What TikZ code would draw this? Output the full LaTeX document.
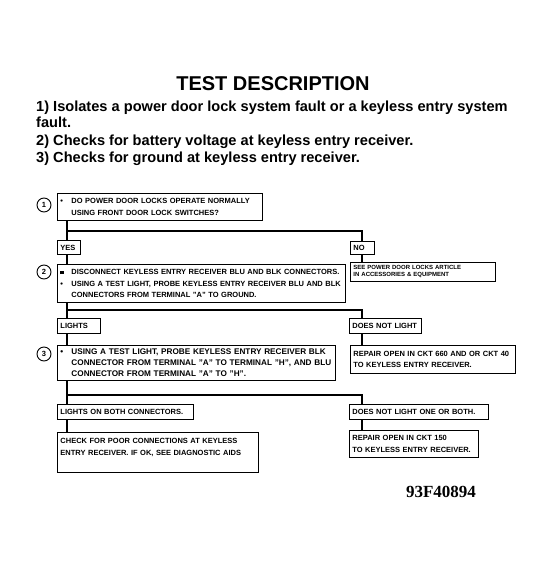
\documentclass[tikz,border=0pt]{standalone}
\usepackage{fontspec}
\setmainfont{Liberation Sans}
\newfontfamily\serialfont{Liberation Serif}
\usepackage{tikz}
\usetikzlibrary{positioning}
\newcommand{\boxfont}{\fontsize{7.5}{11.5}\selectfont\bfseries}
\newcommand{\wideboxfont}{\fontsize{8.2}{11.2}\selectfont\bfseries}
\newcommand{\seefont}{\fontsize{6}{7}\selectfont\bfseries}
\newcommand{\bul}{\makebox[11pt][l]{\textbullet}}
\newcommand{\sqbul}{\makebox[11pt][l]{\rule[0.5pt]{3.2pt}{3.2pt}}}
\newcommand{\ind}{\hspace*{11pt}}
\tikzset{
  box/.style={draw, line width=0.9pt, anchor=north west, inner sep=3pt,
    align=left, font=\boxfont},
  tag/.style={box, fill=white},
  stepnum/.style={circle, draw, line width=0.9pt, minimum size=14pt,
    inner sep=0pt, font=\fontsize{7.5}{8}\selectfont\bfseries},
  trunk/.style={line width=2.8pt},
  bodyline/.style={anchor=base west, inner sep=0pt,
    font=\fontsize{14.6}{17}\selectfont\bfseries}
}

\begin{document}
\begin{tikzpicture}[x=1pt, y=-1pt]
  \useasboundingbox (0,0) rectangle (553,573);
  % Heading
  \node[anchor=base, inner sep=0pt, font=\fontsize{20}{24}\selectfont\bfseries]
    (title) at (273,90) {TEST DESCRIPTION};
  \node[bodyline] (d1a) at (36,111) {1) Isolates a power door lock system fault or a keyless entry system};
  \node[bodyline] (d1b) at (36,127) {fault.};
  \node[bodyline] (d2) at (36,145) {2) Checks for battery voltage at keyless entry receiver.};
  \node[bodyline] (d3) at (36,162) {3) Checks for ground at keyless entry receiver.};
  % Junctions of the trunk
  \coordinate (t1) at (67,231);
  \coordinate (t2) at (67,310);
  \coordinate (t3) at (67,395);
  \coordinate (r1) at (362,231);
  \coordinate (r2) at (362,310);
  \coordinate (r3) at (362,395);
  % Step 1
  \node[stepnum] (c1) at (44,205) {1};
  \node[box, text width=199pt, minimum height=27pt] (q1) at (57,193)
    {\bul DO POWER DOOR LOCKS OPERATE NORMALLY\\ \ind USING FRONT DOOR LOCK SWITCHES?};
  \node[tag, text width=17pt, minimum height=14pt] (yes) at (57,240) {YES};
  \node[tag, text width=18pt, minimum height=13pt] (no) at (350,241) {NO};
  \node[box, font=\seefont, text width=139pt, minimum height=19pt] (see) at (350,262)
    {SEE POWER DOOR LOCKS ARTICLE\\ IN ACCESSORIES \& EQUIPMENT};
  % Step 2
  \node[stepnum] (c2) at (44,272) {2};
  \node[box, text width=282pt, minimum height=38pt] (q2) at (57,264)
    {\sqbul DISCONNECT KEYLESS ENTRY RECEIVER BLU AND BLK CONNECTORS.\\
     \bul USING A TEST LIGHT, PROBE KEYLESS ENTRY RECEIVER BLU AND BLK\\
     \ind CONNECTORS FROM TERMINAL "A" TO GROUND.};
  \node[tag, text width=37pt, minimum height=15pt] (lights) at (57,318) {LIGHTS};
  \node[tag, text width=66pt, minimum height=15pt] (nl) at (349,318) {DOES NOT LIGHT};
  \node[box, text width=159pt, minimum height=28pt] (rep1) at (350,345)
    {REPAIR OPEN IN CKT 660 AND OR CKT 40\\ TO KEYLESS ENTRY RECEIVER.};
  % Step 3
  \node[stepnum] (c3) at (44,354) {3};
  \node[box, font=\wideboxfont, text width=272pt, minimum height=35pt] (q3) at (57,345)
    {\bul USING A TEST LIGHT, PROBE KEYLESS ENTRY RECEIVER BLK\\
     \ind CONNECTOR FROM TERMINAL "A" TO TERMINAL "H", AND BLU\\
     \ind CONNECTOR FROM TERMINAL "A" TO "H".};
  \node[tag, text width=130pt, minimum height=15pt] (both) at (57,404) {LIGHTS ON BOTH CONNECTORS.};
  \node[tag, text width=133pt, minimum height=15pt] (notboth) at (349,404) {DOES NOT LIGHT ONE OR BOTH.};
  \node[box, text width=195pt, minimum height=40pt] (check) at (57,432)
    {CHECK FOR POOR CONNECTIONS AT KEYLESS\\ ENTRY RECEIVER. IF OK, SEE DIAGNOSTIC AIDS\\ \mbox{}};
  \node[box, text width=123pt, minimum height=27pt] (rep2) at (349,430)
    {REPAIR OPEN IN CKT 150\\ TO KEYLESS ENTRY RECEIVER.};
  % Figure number
  \node[anchor=base, inner sep=0pt, font=\serialfont\fontsize{17}{20}\selectfont\bfseries]
    (fig) at (441,497) {93F40894};
  % Trunk lines
  \draw[trunk] (q1.south -| t1) -- (yes.north -| t1);
  \draw[trunk] (yes.south -| t1) -- (q2.north -| t1);
  \draw[trunk] (t1) -- (r1) -- (no.north -| r1);
  \draw[trunk] (no.south -| r1) -- (see.north -| r1);
  \draw[trunk] (q2.south -| t2) -- (lights.north -| t2);
  \draw[trunk] (lights.south -| t2) -- (q3.north -| t2);
  \draw[trunk] (t2) -- (r2) -- (nl.north -| r2);
  \draw[trunk] (nl.south -| r2) -- (rep1.north -| r2);
  \draw[trunk] (q3.south -| t3) -- (both.north -| t3);
  \draw[trunk] (both.south -| t3) -- (check.north -| t3);
  \draw[trunk] (t3) -- (r3) -- (notboth.north -| r3);
  \draw[trunk] (notboth.south -| r3) -- (rep2.north -| r3);
\end{tikzpicture}
\end{document}
